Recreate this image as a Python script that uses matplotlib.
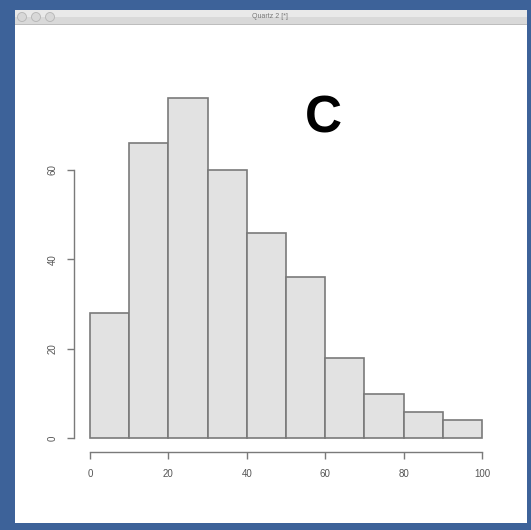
import matplotlib
matplotlib.use("Agg")
import matplotlib.pyplot as plt
from matplotlib.patches import Rectangle

# histogram data (bin edges and counts)
bin_edges = [0, 10, 20, 30, 40, 50, 60, 70, 80, 90, 100]
counts = [28, 66, 76, 60, 46, 36, 18, 10, 6, 4]
x_ticks = [0, 20, 40, 60, 80, 100]
y_ticks = [0, 20, 40, 60]
panel_label = "C"
window_title = "Quartz 2 [*]"

W, H = 531, 530
fig = plt.figure(figsize=(W / 100, H / 100), dpi=100)
fig.patch.set_facecolor("#3d6299")


def px_rect(x0, y0, x1, y1, **kw):
    """rectangle in pixel coords (origin top-left)"""
    r = Rectangle((x0 / W, 1 - y1 / H), (x1 - x0) / W, (y1 - y0) / H,
                  transform=fig.transFigure, zorder=-5, **kw)
    fig.patches.append(r)
    return r


# window frame
px_rect(15, 10, 527, 523, facecolor="white", edgecolor="none")
px_rect(15, 10, 527, 17, facecolor="#e9e9e9", edgecolor="none")
px_rect(15, 17, 527, 24, facecolor="#d9d9d9", edgecolor="none")
px_rect(15, 24, 527, 25, facecolor="#bdbdbd", edgecolor="none")
for cx in [22, 36, 50]:
    c = plt.Circle((cx / W, 1 - 17 / H), 4.5 / W, transform=fig.transFigure,
                   facecolor="#d8d8d8", edgecolor="#b5b5b5", lw=0.6, zorder=-4)
    fig.patches.append(c)
fig.text(270 / W, 1 - 17 / H, window_title, ha="center", va="center",
         fontsize=5, color="#777777", family="Liberation Sans")

# plot region (R style, 4% padding)
left, right, top, bottom = 74.3, 497.7, 84.7, 452
ax = fig.add_axes([left / W, 1 - bottom / H, (right - left) / W, (bottom - top) / H])
ax.set_facecolor("none")
ax.set_zorder(5)

widths = [bin_edges[i + 1] - bin_edges[i] for i in range(len(counts))]
ax.bar(bin_edges[:-1], counts, width=widths, align="edge",
       color="#e2e2e2", edgecolor="#7a7a7a", linewidth=1.2)

ax.set_xlim(-4, 104)
ax.set_ylim(-0.04 * 76, 76 * 1.04)

for s in ["top", "right"]:
    ax.spines[s].set_visible(False)
ax.spines["left"].set_bounds(0, 60)
ax.spines["bottom"].set_bounds(0, 100)
for s in ["left", "bottom"]:
    ax.spines[s].set_color("#7a7a7a")
    ax.spines[s].set_linewidth(1.0)

ax.set_xticks(x_ticks)
ax.set_yticks(y_ticks)
ax.set_yticklabels([str(v) for v in y_ticks], rotation=90, va="center")
ax.tick_params(axis="both", length=5, width=1.0, color="#7a7a7a",
               labelsize=7, labelcolor="#555555")
ax.tick_params(axis="x", pad=7)
ax.tick_params(axis="y", pad=7)
for lab in ax.get_xticklabels() + ax.get_yticklabels():
    lab.set_family("Liberation Sans")

fig.text(323 / W, 1 - 119 / H, panel_label, ha="center", va="center",
         fontsize=37, fontweight="bold", family="Liberation Sans", color="black",
         zorder=10)

fig.savefig("out.png", dpi=100)
